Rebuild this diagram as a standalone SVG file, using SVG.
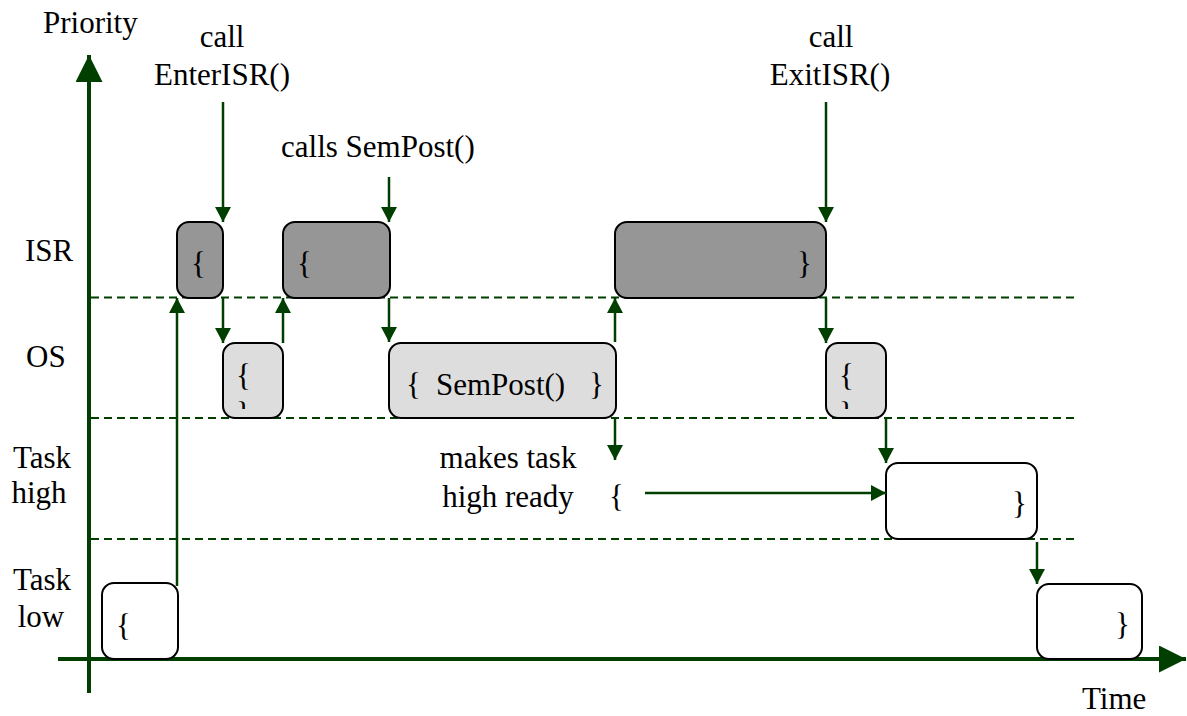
<svg xmlns="http://www.w3.org/2000/svg" width="1187" height="716" viewBox="0 0 1187 716" font-family="'Liberation Serif', 'DejaVu Serif', serif">
  <style>
    text { font-family: 'Liberation Serif', 'DejaVu Serif', serif; font-size: 31px; fill: #000; }
    .mid { text-anchor: middle; }
    .isr { fill: #969696; stroke: #000; stroke-width: 2; }
    .os { fill: #dddddd; stroke: #000; stroke-width: 2; }
    .task { fill: #ffffff; stroke: #000; stroke-width: 2; }
    .axis { stroke: #003f00; stroke-width: 4; fill: none; }
    .lane { stroke: #003f00; stroke-width: 2; stroke-dasharray: 8 5; fill: none; }
    .flow { stroke: #003f00; stroke-width: 2.5; fill: none; marker-end: url(#head); }
  </style>
  <defs>
    <marker id="head" markerUnits="userSpaceOnUse" markerWidth="15" markerHeight="16" refX="15" refY="8" orient="auto">
      <path d="M0,0 L15,8 L0,16 Z" fill="#003f00"/>
    </marker>
    <marker id="axisHead" markerUnits="userSpaceOnUse" markerWidth="27" markerHeight="27" refX="27" refY="13.5" orient="auto">
      <path d="M0,0 L27,13.5 L0,27 Z" fill="#003f00"/>
    </marker>
    <clipPath id="clipOs1"><rect x="223" y="343" width="60" height="66"/></clipPath>
    <clipPath id="clipOs3"><rect x="826" y="343" width="60" height="66"/></clipPath>
  </defs>

  <!-- axes -->
  <g id="axes">
    <line class="axis" x1="89" y1="693" x2="89" y2="55" marker-end="url(#axisHead)"/>
    <line class="axis" x1="58" y1="659" x2="1186" y2="659" marker-end="url(#axisHead)"/>
    <text x="43" y="33">Priority</text>
    <text x="1082" y="709">Time</text>
  </g>

  <!-- priority lanes -->
  <g id="lanes">
    <line class="lane" x1="91" y1="297.5" x2="1078" y2="297.5"/>
    <line class="lane" x1="91" y1="418" x2="1078" y2="418"/>
    <line class="lane" x1="91" y1="539" x2="1078" y2="539"/>
    <text x="25" y="261">ISR</text>
    <text x="26" y="367">OS</text>
    <text class="mid" x="42" y="468">Task</text>
    <text class="mid" x="39" y="503">high</text>
    <text class="mid" x="42" y="590">Task</text>
    <text class="mid" x="41" y="627">low</text>
  </g>

  <!-- annotations -->
  <g id="notes">
    <text class="mid" x="222" y="47">call</text>
    <text class="mid" x="222" y="85">EnterISR()</text>
    <text x="281" y="157">calls SemPost()</text>
    <text class="mid" x="831" y="47">call</text>
    <text class="mid" x="830" y="85">ExitISR()</text>
    <text class="mid" x="508" y="468">makes task</text>
    <text class="mid" x="508" y="507">high ready</text>
    <text x="609" y="507">{</text>
  </g>

  <!-- execution blocks -->
  <g id="task-low-1">
    <rect class="task" x="102" y="583" width="76" height="76" rx="12"/>
    <text x="116" y="636">{</text>
  </g>
  <g id="isr-1">
    <rect class="isr" x="177" y="222" width="46" height="76" rx="12"/>
    <text x="191" y="274">{</text>
  </g>
  <g id="os-1">
    <rect class="os" x="223" y="343" width="60" height="75" rx="12"/>
    <text x="236" y="386">{</text>
    <text x="236" y="424" clip-path="url(#clipOs1)">}</text>
  </g>
  <g id="isr-2">
    <rect class="isr" x="283" y="222" width="107" height="76" rx="12"/>
    <text x="297" y="274">{</text>
  </g>
  <g id="os-2">
    <rect class="os" x="389" y="343" width="227" height="75" rx="12"/>
    <text x="406" y="395">{</text>
    <text x="436" y="395">SemPost()</text>
    <text x="589" y="395">}</text>
  </g>
  <g id="isr-3">
    <rect class="isr" x="615" y="222" width="211" height="76" rx="12"/>
    <text x="797" y="274">}</text>
  </g>
  <g id="os-3">
    <rect class="os" x="826" y="343" width="60" height="75" rx="12"/>
    <text x="839" y="386">{</text>
    <text x="839" y="424" clip-path="url(#clipOs3)">}</text>
  </g>
  <g id="task-high">
    <rect class="task" x="886" y="463" width="151" height="76" rx="12"/>
    <text x="1012" y="514">}</text>
  </g>
  <g id="task-low-2">
    <rect class="task" x="1037" y="584" width="105" height="75" rx="12"/>
    <text x="1115" y="635">}</text>
  </g>

  <!-- transitions -->
  <g id="connectors">
    <line class="flow" x1="223" y1="102" x2="223" y2="222"/>
    <line class="flow" x1="389" y1="177" x2="389" y2="222"/>
    <line class="flow" x1="826" y1="102" x2="826" y2="222"/>
    <line class="flow" x1="177" y1="586" x2="177" y2="298"/>
    <line class="flow" x1="223" y1="298" x2="223" y2="343"/>
    <line class="flow" x1="283" y1="343" x2="283" y2="298"/>
    <line class="flow" x1="389" y1="298" x2="389" y2="342"/>
    <line class="flow" x1="615" y1="342" x2="615" y2="298"/>
    <line class="flow" x1="615" y1="418" x2="615" y2="460"/>
    <line class="flow" x1="645" y1="493" x2="886" y2="493"/>
    <line class="flow" x1="826" y1="298" x2="826" y2="343"/>
    <line class="flow" x1="886" y1="418" x2="886" y2="463"/>
    <line class="flow" x1="1037" y1="542" x2="1037" y2="584"/>
  </g>
</svg>
